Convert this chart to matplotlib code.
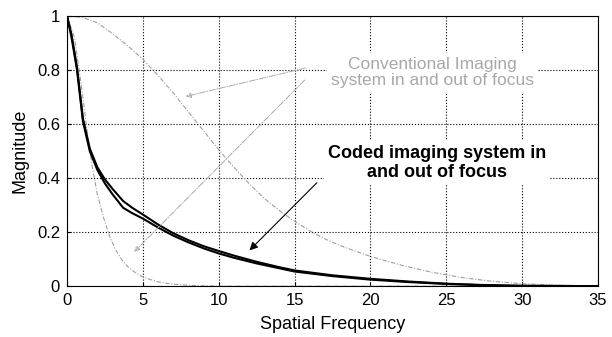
import matplotlib
matplotlib.use("Agg")
import matplotlib.pyplot as plt

# conventional system, in focus
conv_in_x = [0, 1, 2, 3, 4, 5, 6, 7, 8, 9, 10, 11, 12, 13, 14, 15, 16, 17, 18, 20, 22, 24, 26, 28, 30, 32, 35]
conv_in_y = [1.0, 0.995, 0.975, 0.935, 0.89, 0.84, 0.78, 0.715, 0.645, 0.575, 0.505, 0.44, 0.38, 0.325, 0.28, 0.24, 0.205, 0.175, 0.15, 0.11, 0.078, 0.052, 0.032, 0.018, 0.009, 0.004, 0.0]

# conventional system, out of focus
conv_out_x = [0, 0.5, 1.0, 1.4, 1.7, 2.0, 2.4, 2.8, 3.2, 3.6, 4.0, 4.5, 5.0, 5.5, 6.0, 6.6, 7.5, 8.5, 10, 15, 20, 25, 30, 35]
conv_out_y = [1.0, 0.92, 0.72, 0.54, 0.43, 0.34, 0.255, 0.185, 0.135, 0.098, 0.072, 0.05, 0.034, 0.024, 0.016, 0.01, 0.005, 0.002, 0.0, 0.0, 0.0, 0.0, 0.0, 0.0]

# coded system, in focus / out of focus
coded_x = [0, 0.3, 0.66, 1.05, 1.5, 2.0, 2.5, 3.0, 3.7, 4.3, 5, 6, 7, 8, 9, 10, 11, 12.5, 14, 15, 17.5, 20, 22.5, 25, 27.5, 30, 35]
coded_a = [1.0, 0.93, 0.81, 0.62, 0.51, 0.44, 0.395, 0.36, 0.315, 0.29, 0.265, 0.228, 0.196, 0.17, 0.148, 0.13, 0.113, 0.09, 0.07, 0.058, 0.04, 0.027, 0.017, 0.009, 0.004, 0.001, 0.0]
coded_b = [1.0, 0.92, 0.80, 0.61, 0.50, 0.43, 0.38, 0.34, 0.29, 0.27, 0.25, 0.217, 0.187, 0.162, 0.14, 0.121, 0.105, 0.084, 0.066, 0.054, 0.037, 0.024, 0.015, 0.008, 0.003, 0.001, 0.0]

x_ticks = [0, 5, 10, 15, 20, 25, 30, 35]
y_ticks = [0, 0.2, 0.4, 0.6, 0.8, 1]
y_labels = ["0", "0.2", "0.4", "0.6", "0.8", "1"]

plt.rcParams['font.family'] = ['Liberation Sans', 'DejaVu Sans']

fig = plt.figure(figsize=(6.12, 3.37), dpi=100)
ax = fig.add_axes([0.1095, 0.151, 0.8675, 0.8015])

ax.plot(conv_in_x, conv_in_y, color='#a0a0a0', lw=0.8, ls=(0, (4, 1.5, 1, 1.5)))
ax.plot(conv_out_x, conv_out_y, color='#a0a0a0', lw=0.8, ls=(0, (4, 1.5, 1, 1.5)))
ax.plot(coded_x, coded_a, color='black', lw=1.5)
ax.plot(coded_x, coded_b, color='black', lw=1.5)

ax.set_xlim(0, 35)
ax.set_ylim(0, 1)
ax.set_xticks(x_ticks)
ax.set_yticks(y_ticks)
ax.set_yticklabels(y_labels)
ax.tick_params(direction='in', labelsize=12, length=3, pad=5)
ax.grid(True, color='black', ls=':', lw=0.8)
for s in ax.spines.values():
    s.set_linewidth(0.8)

ax.set_xlabel('Spatial Frequency', fontsize=13, labelpad=6)
ax.set_ylabel('Magnitude', fontsize=13, labelpad=6)

# annotations
gray = '#a8a8a8'
ax.annotate('', xy=(7.65, 0.70), xytext=(15.9, 0.81),
            arrowprops=dict(arrowstyle='-|>', color=gray, lw=0.7, ls='-.', fill=False, mutation_scale=8))
ax.annotate('', xy=(4.3, 0.12), xytext=(15.8, 0.77),
            arrowprops=dict(arrowstyle='-|>', color=gray, lw=0.7, ls='-.', fill=False, mutation_scale=8))
ax.text(24.1, 0.79, 'Conventional Imaging\nsystem in and out of focus', color=gray,
        fontsize=12.5, ha='center', va='center', linespacing=1.1,
        bbox=dict(facecolor='white', edgecolor='none', pad=3), zorder=5)

ax.annotate('', xy=(11.9, 0.125), xytext=(16.6, 0.39),
            arrowprops=dict(arrowstyle='-|>', color='black', lw=0.8, mutation_scale=12))
ax.text(24.4, 0.456, 'Coded imaging system in\nand out of focus', color='black',
        fontsize=13, fontweight='bold', ha='center', va='center', linespacing=1.15,
        bbox=dict(facecolor='white', edgecolor='none', pad=3), zorder=5)

fig.savefig('out.png', dpi=100)
